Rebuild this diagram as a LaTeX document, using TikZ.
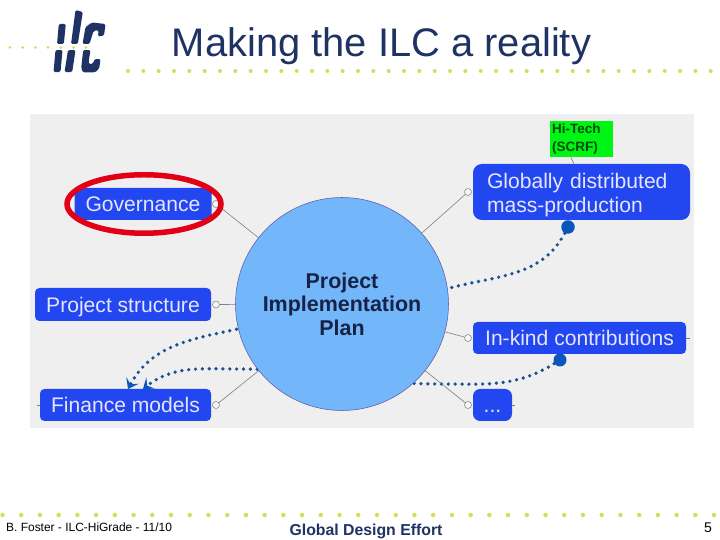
\documentclass[tikz,border=0pt]{standalone}
\usepackage{fontspec}
\setmainfont{Liberation Sans}
\definecolor{titleblue}{RGB}{31,50,100}
\definecolor{dotyellow}{RGB}{212,222,90}
\definecolor{panelgrey}{RGB}{239,239,239}
\definecolor{boxblue}{RGB}{34,70,240}
\definecolor{planblue}{RGB}{116,182,250}
\definecolor{linkblue}{RGB}{28,80,145}
\definecolor{blobblue}{RGB}{10,85,190}
\definecolor{ringred}{RGB}{225,0,20}
\definecolor{hitechgreen}{RGB}{0,245,20}
\usetikzlibrary{arrows.meta,positioning,calc}

\begin{document}
\begin{tikzpicture}[
            box node/.style={rectangle,fill=boxblue,rounded corners=2.5pt,text=white!90!blue,font=\fontsize{12}{13.4}\selectfont,minimum height=0.64cm,inner sep=0pt},
            one line/.style={text height=10.6pt,text depth=2pt},
            plan node/.style={circle,fill=planblue,draw=gray!70!blue,line width=0.3pt,minimum size=4.26cm,inner sep=0pt},
            knob node/.style={circle,fill=panelgrey!50!white,draw=gray,line width=0.3pt,minimum size=0.14cm,inner sep=0pt},
            blob node/.style={circle,fill=blobblue,minimum size=0.27cm,inner sep=0pt},
            twig/.style={gray,line width=0.35pt},
            link/.style={linkblue,line width=2.1pt,line cap=round,dash pattern=on 0pt off 3.9pt},
            link tip/.style={-{Stealth[color=blobblue,length=5.5pt,width=8pt,inset=2.5pt]}}
        ]
            \useasboundingbox (0,0) rectangle (14.4,10.8);

            % logo, in picture pixels
            \begin{scope}[x=0.02cm,y=-0.02cm,yshift=10.8cm,titleblue,rounded corners=0.8pt]
                \fill (58.8,24) -- (65.8,24) -- (63.8,44) -- (57,44) -- cycle;
                \fill (55.5,50) -- (62.5,50) -- (60.5,72) -- (53.5,72) -- cycle;
                \fill (75.5,10) -- (82.8,12) -- (77.8,44) -- (71,44) -- cycle;
                \fill (68,50) -- (75.5,50) -- (72.2,72) -- (64.5,72) -- cycle;
                \fill (82.5,44) -- (89.5,44) -- (93.5,31) -- (98.5,30) -- (98,36.5) -- (104,35.5) -- (105.5,24) -- (92,22.5) -- (85.5,27) -- cycle;
                \fill (83.2,50) -- (90.5,50) -- (88.5,62) -- (89.5,64.5) -- (93.5,63) -- (94.5,59) -- (100.5,59) -- (99.2,68.5) -- (95.5,72.2) -- (83,72.5) -- (81.2,68) -- cycle;
            \end{scope}

            % dotted rules
            \foreach \i in {0,...,6}
                \fill[dotyellow] ({0.2+\i*0.2533},9.85) circle (0.03);
            \foreach \i in {0,...,38}
                \fill[dotyellow] ({2.56+\i*0.3067},9.38) circle (0.04);
            \foreach \i in {0,...,38}
                \fill[dotyellow] ({0.05+\i*0.3745},0.5) circle (0.045);

            \node[text=titleblue,font=\fontsize{22.7}{26}\selectfont,anchor=base] (title) at (7.63,9.66) {Making the ILC a reality};

            \fill[panelgrey] (0.6,2.24) rectangle (13.88,8.52);

            \node[box node,one line,minimum width=2.74cm] (governance) at (2.86,6.72) {Governance};
            \node[box node,one line,minimum width=3.52cm,minimum height=0.66cm] (structure) at (2.46,4.71) {Project structure};
            \node[box node,one line,minimum width=3.42cm] (finance) at (2.51,2.70) {Finance models};
            \node[box node,minimum width=4.34cm,minimum height=1.12cm,rounded corners=5pt,align=left,text width=3.78cm] (massprod) at (11.63,6.96) {\rule{0pt}{12pt}Globally distributed\\mass-production};
            \node[box node,one line,minimum width=4.26cm] (inkind) at (11.59,4.04) {In-kind contributions};
            \node[box node,one line,minimum width=0.78cm,rounded corners=4pt] (more) at (9.85,2.70) {...};
            \node[rectangle,fill=hitechgreen,text=black!70!green,font=\bfseries\fontsize{7.7}{9.8}\selectfont,align=left,text width=1.18cm,inner sep=0.04cm,minimum height=0.72cm] (hitech) at (11.63,8.02) {Hi-Tech\\(SCRF)};

            % the links run behind the plan circle
            \node[blob node] (massblob) at (11.36,6.26) {};
            \node[blob node,minimum size=0.26cm] (kindblob) at (11.2,3.6) {};
            \coordinate (hidea) at (9.0,5.04);
            \coordinate (hideb) at (4.76,4.22);
            \coordinate (hidec) at (8.8,3.12);
            \coordinate (hided) at (4.8,3.42);
            \coordinate (tipa) at (2.56,3.02);
            \coordinate (tipb) at (2.86,3.02);
            \draw[link,link tip] (massblob) to[out=-118,in=15] (hidea) to[out=192,in=12] (hideb) to[out=192,in=62] (tipa);
            \draw[link,link tip] (kindblob) to[out=-148,in=0] (hidec) to[out=180,in=0] (hided) to[out=180,in=38] (tipb);

            \node[plan node,align=center,font=\bfseries\fontsize{12.2}{13.4}\selectfont,text=titleblue!70!black] (plan) at (6.84,4.72) {Project\\Implementation\\Plan};

            \node[knob node] (governanceknob) at (4.32,6.72) {};
            \node[knob node] (structureknob) at (4.32,4.71) {};
            \node[knob node] (financeknob) at (4.32,2.70) {};
            \node[knob node] (massknob) at (9.36,6.96) {};
            \node[knob node] (kindknob) at (9.36,4.04) {};
            \node[knob node] (moreknob) at (9.36,2.70) {};

            \foreach \k in {governanceknob,structureknob,financeknob,massknob,kindknob,moreknob}
                \draw[twig] (\k) -- (plan);
            \draw[twig] (hitech.240) -- (massprod.105);
            \draw[twig] (finance.west) -- +(-0.05,0);
            \draw[twig] (inkind.east) -- +(0.08,0);
            \draw[twig] (more.east) -- +(0.05,0);

            \draw[ringred,line width=0.11cm] (2.88,6.72) ellipse (1.54 and 0.585);

            \node[anchor=west,font=\fontsize{6.8}{8}\selectfont] (author) at (0.0,0.26) {B. Foster - ILC-HiGrade - 11/10};
            \node[text=titleblue,font=\bfseries\fontsize{9}{11}\selectfont] (effort) at (7.32,0.18) {Global Design Effort};
            \node[font=\fontsize{8}{9}\selectfont] (page) at (14.16,0.24) {5};
        \end{tikzpicture}
\end{document}
